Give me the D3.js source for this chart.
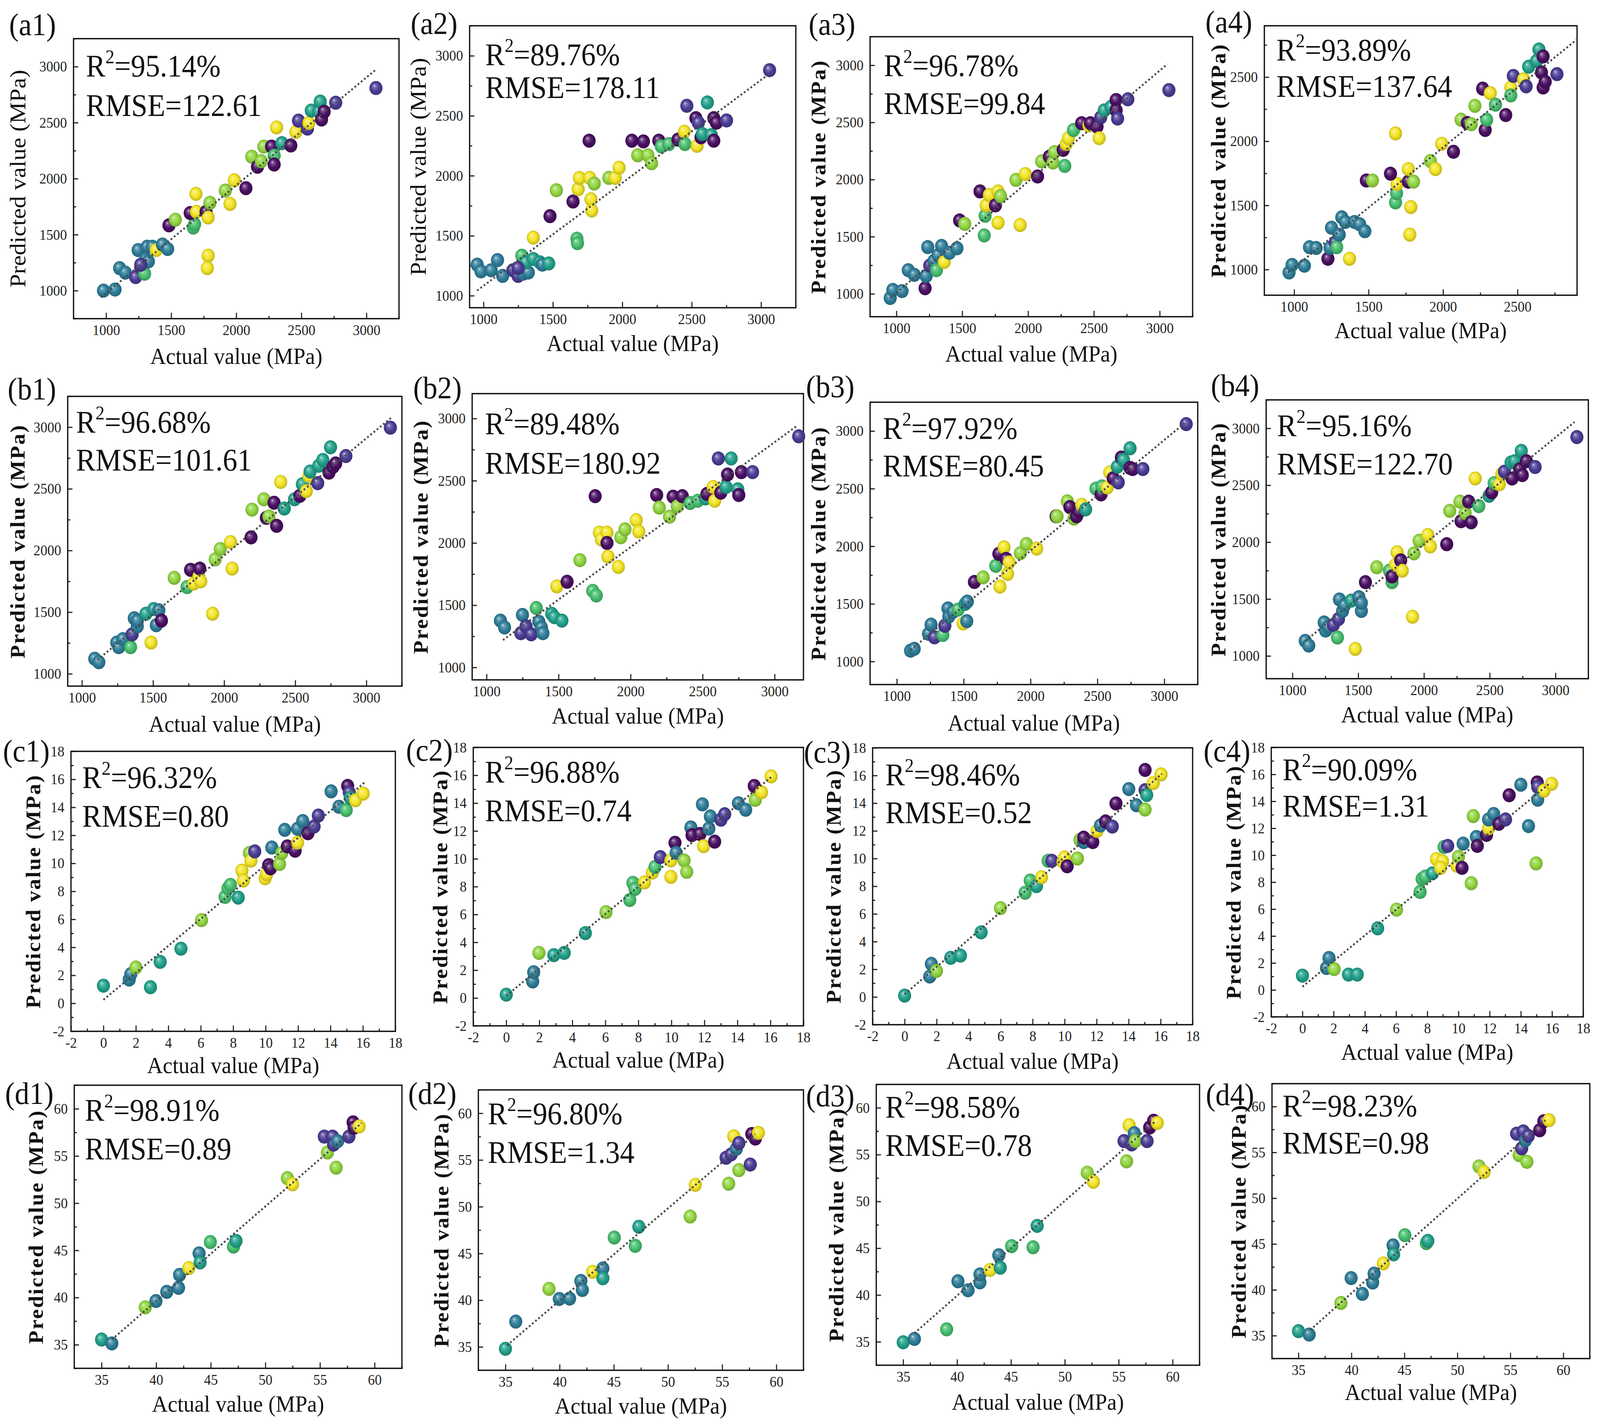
<!DOCTYPE html>
<html>
<head>
<meta charset="utf-8">
<script src="https://cdn.jsdelivr.net/npm/d3@7"></script>
<style>
  html, body { margin: 0; padding: 0; background: #fff; overflow: hidden; }
  svg { display: block; width: 100vw; height: 100vh; font-family: "Liberation Serif", "Times New Roman", serif; }
</style>
</head>
<body>
<svg id="chart" viewBox="0 0 4395 3644" preserveAspectRatio="none"></svg>
<script>
// ---- data: actual / predicted / colour group per panel ----
const a1Actual = [980,1069,1104,1148,1227,1266,1296,1246,1315,1355,1384,1433,1473,1305,1325,1266,1483,1532,1670,1680,1646,1694,1690,1768,1784,1798,1784,1778,1916,1952,1985,2074,2119,2163,2192,2212,2271,2291,2291,2350,2419,2310,2458,2478,2547,2557,2576,2635,2645,2655,2675,2764,3073];
const a1Pred   = [1000,1010,1201,1161,1121,1211,1151,1362,1392,1392,1362,1412,1372,1281,1261,1231,1583,1633,1563,1593,1693,1704,1864,1704,1653,1784,1312,1201,1894,1774,1985,1915,2196,2106,2156,2286,2286,2206,2126,2317,2296,2457,2417,2518,2447,2497,2608,2598,2688,2528,2598,2678,2809];
const a1Grp    = [2,2,2,2,1,1,4,2,2,2,6,2,2,2,2,1,0,5,4,4,0,6,6,0,6,5,6,6,5,6,6,0,5,0,5,5,0,4,0,3,0,6,6,1,1,6,3,3,3,0,0,1,1];

const a2Actual = [954,982,1055,1101,1138,1212,1249,1286,1323,1276,1304,1359,1406,1424,1470,1249,1359,1479,1525,1645,1673,1677,1682,1691,1761,1765,1774,1780,1798,1903,1949,1977,2069,2111,2152,2185,2211,2263,2281,2336,2401,2447,2451,2465,2530,2548,2539,2567,2576,2613,2641,2659,2678,2659,2751,3061];
const a2Pred   = [1259,1203,1212,1297,1165,1212,1165,1184,1193,1334,1278,1306,1278,1259,1269,1231,1484,1663,1879,1785,1475,1438,1888,1982,2292,1982,1804,1710,1935,1982,1982,2067,2292,2170,2286,2170,2104,2292,2245,2264,2301,2367,2264,2583,2480,2442,2249,2320,2348,2611,2339,2480,2442,2292,2461,2880];
const a2Grp    = [2,2,2,2,2,1,1,2,2,4,3,3,3,2,3,1,6,0,5,0,4,4,6,6,0,6,6,6,5,5,6,6,0,5,0,5,5,0,4,4,0,6,4,1,0,1,6,0,3,3,3,0,0,0,1,1];

const a3Actual = [953,973,1043,1090,1136,1218,1226,1238,1253,1285,1304,1316,1343,1363,1402,1460,1480,1519,1667,1674,1635,1682,1706,1752,1772,1791,1772,1940,1908,1979,2072,2103,2162,2189,2201,2279,2267,2290,2306,2345,2407,2462,2474,2524,2540,2552,2579,2630,2669,2669,2680,2758,3070];
const a3Pred   = [964,1034,1024,1207,1166,1049,1156,1409,1247,1288,1207,1338,1419,1278,1359,1399,1642,1612,1511,1683,1896,1774,1865,1774,1896,1855,1622,1602,1997,2048,2027,2159,2200,2149,2240,2119,2260,2311,2362,2433,2493,2473,2493,2463,2362,2544,2605,2635,2696,2605,2534,2702,2783];
const a3Grp    = [2,2,2,2,2,0,2,2,1,2,4,2,2,6,2,2,0,5,4,4,0,6,6,0,6,5,6,6,5,6,0,5,0,5,5,4,0,6,6,4,0,6,0,0,6,1,3,3,0,0,1,1,1];

const a4Actual = [966,986,1069,1103,1148,1227,1241,1251,1275,1286,1303,1320,1344,1372,1406,1440,1475,1485,1526,1681,1688,1681,1691,1647,1767,1767,1802,1784,1777,1915,1949,1991,2070,2121,2163,2190,2214,2266,2283,2293,2317,2352,2421,2455,2455,2472,2541,2558,2575,2627,2644,2661,2672,2672,2686,2765];
const a4Pred   = [977,1036,1030,1174,1168,1084,1168,1326,1210,1174,1272,1407,1371,1084,1371,1353,1299,1694,1694,1523,1595,2061,1667,1747,1685,1783,1685,1487,1272,1846,1783,1980,1918,2168,2142,2133,2276,2410,2088,2168,2375,2285,2204,2419,2357,2509,2482,2428,2581,2625,2715,2536,2661,2419,2464,2523];
const a4Grp    = [2,2,2,2,2,0,2,2,1,4,2,2,2,6,2,2,2,0,5,4,4,6,6,0,0,6,5,6,6,5,6,6,0,5,0,5,5,0,0,4,6,4,0,6,4,1,6,1,3,3,3,0,0,0,0,1];

const b1Actual = [1090,1119,1245,1259,1288,1342,1353,1368,1389,1389,1450,1486,1505,1523,1541,1559,1649,1739,1764,1786,1822,1829,1836,1919,1937,1973,2045,2056,2189,2196,2279,2297,2315,2351,2369,2398,2423,2495,2532,2550,2578,2596,2604,2658,2665,2694,2737,2766,2784,2748,2856,3169];
const b1Pred   = [1122,1094,1253,1216,1281,1216,1319,1450,1384,1431,1487,1253,1525,1394,1515,1431,1778,1703,1843,1731,1787,1853,1750,1487,1928,2012,2068,1853,2106,2331,2415,2265,2275,2387,2200,2556,2340,2415,2443,2537,2481,2603,2640,2546,2687,2734,2631,2678,2706,2837,2766,2996];
const b1Grp    = [2,2,2,2,2,4,1,2,2,2,3,6,3,2,2,0,5,4,0,6,6,0,6,6,5,5,6,6,0,5,5,0,5,0,0,6,3,3,0,3,6,6,3,1,3,3,0,0,0,3,1,1];

const b2Actual = [1096,1125,1238,1249,1274,1310,1345,1363,1381,1391,1452,1470,1523,1488,1559,1648,1737,1762,1754,1783,1797,1836,1836,1843,1915,1932,1961,2039,2057,2181,2199,2270,2295,2324,2359,2413,2466,2520,2530,2573,2584,2609,2626,2662,2673,2698,2744,2751,2769,2847,3167];
const b2Pred   = [1376,1321,1275,1422,1330,1266,1477,1367,1321,1275,1431,1404,1376,1651,1688,1862,1615,1578,2376,2083,2028,2083,2000,1890,1807,2046,2110,2183,2092,2385,2284,2211,2372,2294,2376,2321,2339,2358,2394,2450,2339,2679,2404,2450,2550,2679,2431,2385,2569,2569,2857];
const b2Grp    = [2,2,1,2,1,1,4,2,2,2,3,3,3,6,0,5,4,4,0,6,6,6,0,6,6,5,5,6,6,0,5,5,0,5,0,4,4,3,0,6,6,1,0,3,0,3,3,0,0,1,1];

const b3Actual = [1103,1130,1237,1256,1282,1344,1359,1382,1389,1420,1458,1496,1511,1523,1527,1580,1645,1740,1763,1771,1802,1817,1828,1840,1924,1969,2046,2191,2198,2275,2294,2324,2344,2363,2382,2412,2489,2527,2534,2573,2592,2618,2656,2649,2679,2695,2744,2763,2744,2840,3164];
const b3Pred   = [1094,1110,1240,1320,1210,1230,1310,1460,1390,1430,1450,1330,1500,1350,1520,1690,1730,1830,1934,1650,1990,1890,1760,1860,1940,2020,1980,2260,2260,2390,2340,2240,2260,2300,2360,2320,2500,2450,2520,2510,2640,2590,2554,2690,2770,2750,2680,2670,2850,2670,3060];
const b3Grp    = [2,2,2,2,1,4,1,2,2,2,4,6,3,2,2,0,5,4,0,6,6,0,6,6,5,5,6,0,5,5,0,5,0,0,6,3,4,0,4,6,6,0,1,3,0,3,0,0,3,1,1];

const b4Actual = [1097,1124,1241,1252,1272,1311,1342,1350,1357,1381,1396,1447,1478,1505,1524,1524,1555,1641,1738,1757,1757,1784,1796,1823,1835,1913,1924,1963,2029,2049,2173,2196,2282,2274,2313,2340,2359,2390,2417,2495,2515,2534,2573,2592,2612,2670,2662,2689,2728,2748,2740,2779,2845,3163];
const b4Pred   = [1132,1091,1294,1223,1253,1273,1162,1324,1496,1395,1445,1486,1061,1516,1395,1466,1648,1779,1749,1648,1698,1800,1911,1840,1749,1344,1901,2012,2063,1962,1982,2275,2184,2356,2255,2356,2174,2559,2316,2407,2437,2518,2508,2599,2619,2559,2700,2711,2640,2589,2802,2711,2660,2923];
const b4Grp    = [2,2,2,2,2,1,4,1,2,2,2,3,6,2,2,2,0,5,4,4,0,6,6,0,6,6,5,5,6,6,0,5,0,5,5,0,0,6,4,3,0,4,6,6,1,0,3,3,0,0,3,0,1,1];

const c1Actual = [0,1.59,1.69,2.0,2.9,3.5,4.78,6.05,7.5,7.68,7.83,8.31,8.54,8.63,9.0,9.1,9.33,9.97,10.06,10.19,10.3,10.38,10.86,11.0,11.18,11.34,11.82,11.97,11.97,12.29,12.61,12.99,13.25,14.04,14.52,14.97,15.06,15.16,15.22,15.54,16.02];
const c1Pred   = [1.26,1.70,2.09,2.56,1.15,2.96,3.9,5.94,7.6,8.22,8.46,7.55,9.48,8.77,10.74,10.19,10.85,8.93,9.21,9.87,9.64,11.13,9.95,10.74,12.39,11.21,10.9,11.48,12.47,13.02,12.15,12.63,13.41,15.14,14.04,13.8,15.53,15.06,14.67,14.5,14.98];
const c1Grp    = [3,2,2,5,3,3,3,5,4,4,4,3,6,6,5,6,1,6,6,0,0,2,5,5,2,0,0,6,2,2,0,1,1,2,2,4,0,1,3,6,6];

const c2Actual = [0,1.6,1.66,1.98,2.88,3.51,4.79,6.04,7.48,7.67,7.8,8.37,8.85,9.01,9.33,9.97,9.97,10.22,10.29,10.77,10.93,11.18,11.25,11.73,11.95,11.88,12.27,12.36,12.62,13.0,13.23,14.06,14.5,15.02,15.08,15.46,16.04];
const c2Pred   = [0.24,1.19,1.85,3.24,3.08,3.24,4.66,6.17,7.04,8.27,7.83,8.3,9.01,9.41,10.12,9.88,8.7,11.15,10.43,9.88,9.06,12.25,11.7,11.78,10.91,13.91,12.17,13.04,11.23,12.81,13.2,13.99,13.52,15.23,14.23,14.78,15.92];
const c2Grp    = [3,2,2,5,3,3,3,5,4,4,4,6,6,4,1,6,6,0,2,5,5,2,0,0,6,2,2,2,0,1,1,2,2,0,5,6,6];

const c3Actual = [0,1.57,1.67,1.99,2.88,3.49,4.78,5.99,7.53,7.85,8.24,8.56,8.97,9.2,9.9,10.0,10.16,10.8,10.96,11.19,11.19,11.76,12.02,12.24,12.56,12.98,13.21,14.01,14.49,15.03,15.03,15.13,15.03,15.54,16.03];
const c3Pred   = [0.1,1.48,2.39,1.88,2.83,2.99,4.67,6.42,7.53,8.41,8.01,8.65,9.84,9.84,9.76,10.08,9.44,10.0,11.35,11.19,11.51,11.19,11.99,12.39,12.68,12.31,13.98,15.02,13.85,16.4,14.94,14.59,13.54,15.45,16.08];
const c3Grp    = [3,2,2,5,3,3,3,5,4,4,3,6,4,1,6,6,0,5,5,2,0,0,6,2,0,1,0,2,2,0,1,3,5,6,6];

const c4Actual = [0,1.54,1.7,2.03,2.95,3.51,4.82,6.03,7.54,7.67,7.87,8.33,8.59,8.98,8.85,9.08,9.31,9.9,10.0,10.23,10.3,10.82,10.95,11.15,11.21,11.8,11.93,11.93,12.26,12.59,13.02,13.25,14.0,14.49,14.98,15.05,15.08,15.08,15.48,15.97];
const c4Pred   = [1.06,1.63,2.37,1.55,1.14,1.14,4.57,5.96,7.27,8.24,8.41,8.65,9.71,9.55,9.06,10.61,10.69,9.22,9.88,9.06,10.86,7.92,12.9,11.35,10.69,11.51,12.0,12.65,13.06,12.33,12.65,14.45,15.23,12.16,9.39,15.4,15.07,14.12,14.78,15.3];
const c4Grp    = [3,2,2,5,3,3,3,5,4,4,4,3,6,6,6,4,1,6,5,0,2,5,5,2,0,0,6,2,2,0,1,0,2,2,5,0,1,2,6,6];

const d1Actual = [35.0,35.94,39.0,39.98,40.97,42.05,42.14,42.99,43.93,44.02,44.96,47.08,47.31,52.01,52.48,55.39,55.68,56.15,56.24,56.48,56.62,57.65,58.03,58.12,58.59];
const d1Pred   = [35.55,35.14,38.96,39.63,40.6,41.03,42.4,43.12,44.68,43.72,45.88,45.4,46.0,52.65,52.0,57.05,55.37,57.05,56.21,53.76,56.57,57.05,58.56,58.0,58.13];
const d1Grp    = [3,2,5,2,2,2,2,6,2,3,4,4,3,5,6,1,5,1,1,5,2,1,0,0,6];

const d2Actual = [35.0,35.95,39.02,39.97,40.92,41.96,42.1,43.05,43.99,43.99,45.04,46.98,47.31,52.05,52.52,55.36,55.6,55.83,56.07,56.31,56.54,56.54,57.59,57.73,58.06,58.34];
const d2Pred   = [34.8,37.71,41.21,40.13,40.17,42.06,41.09,43.03,43.39,42.35,46.7,45.81,47.86,48.95,52.34,55.24,52.46,55.6,57.53,56.2,56.81,53.91,54.51,57.78,57.29,57.9];
const d2Grp    = [3,2,5,2,2,2,2,6,2,3,4,4,3,5,6,1,5,1,6,2,1,5,1,0,0,6];

const d3Actual = [35.0,36.04,39.03,40.08,41.02,42.12,42.12,43.06,43.87,44.01,45.06,47.05,47.43,52.08,52.65,55.49,55.73,55.97,56.2,56.44,56.54,57.63,57.87,58.24,58.58];
const d3Pred   = [34.95,35.31,36.33,41.47,40.51,41.35,42.2,42.68,44.25,42.92,45.22,45.1,47.39,53.07,52.1,56.45,54.28,58.14,56.09,57.29,56.45,56.45,57.9,58.62,58.38];
const d3Grp    = [3,2,4,2,2,2,2,6,2,3,4,4,3,5,6,1,5,6,1,2,5,1,0,0,6];

const d4Actual = [35.0,36.01,39.01,39.97,41.03,42.0,42.14,43.01,43.93,43.98,45.04,47.07,47.21,52.04,52.52,55.59,55.83,56.07,56.22,56.41,56.56,56.7,57.77,58.16,58.65];
const d4Pred   = [35.49,35.12,38.57,41.28,39.56,40.79,41.77,42.88,44.85,43.87,45.96,45.1,45.34,53.47,52.86,57.04,54.7,55.44,57.29,56.3,53.97,56.8,57.41,58.4,58.52];
const d4Grp    = [3,2,5,2,2,2,2,6,2,3,4,4,3,5,6,1,5,1,1,2,5,1,0,0,6];

// fitted line ends [x0, y0, x1, y1]
const a1Fit = [961,940,3079,2980],   a2Fit = [954,1043,3055,2846];
const a3Fit = [953,964,3058,3010],   a4Fit = [959,977,2902,2796];
const b1Fit = [1108,1112,3180,3081], b2Fit = [1114,1220,3160,2945];
const b3Fit = [1103,1100,3164,3080], b4Fit = [1097,1132,3144,3055];
const c1Fit = [0,0.25,16.18,15.85],  c2Fit = [0,0.16,16.04,15.86];
const c3Fit = [0,0.2,16.09,16.13],   c4Fit = [0,0.24,15.87,15.35];
const d1Fit = [35.94,35.55,58.8,58.49], d2Fit = [35.14,35.17,58.06,57.78];
const d3Fit = [36.04,35.92,58.34,58.5], d4Fit = [36.11,35.62,58.31,58.52];

// metrics text
const r2List   = ["95.14%","89.76%","96.78%","93.89%","96.68%","89.48%","97.92%","95.16%","96.32%","96.88%","98.46%","90.09%","98.91%","96.80%","98.58%","98.23%"];
const rmseList = ["122.61","178.11","99.84","137.64","101.61","180.92","80.45","122.70","0.80","0.74","0.52","1.31","0.89","1.34","0.78","0.98"];

// tick labels
const ticksMPa  = [1000,1500,2000,2500,3000];
const ticksA4   = [1000,1500,2000,2500];
const ticksC    = [-2,0,2,4,6,8,10,12,14,16,18];
const ticksD    = [35,40,45,50,55,60];

// viridis-like colour per group
const GROUP_COLORS = ["#4a0f63","#4b3d96","#2f7e9a","#22a28b","#46c06e","#93d741","#f4e525"];

// ---- panel definitions ----
const panels = [
  { id:"a1", x:a1Actual, y:a1Pred, g:a1Grp, fit:a1Fit, dom:[750,3250], ticks:ticksMPa, minor:250 },
  { id:"a2", x:a2Actual, y:a2Pred, g:a2Grp, fit:a2Fit, dom:[900,3250], ticks:ticksMPa, minor:250 },
  { id:"a3", x:a3Actual, y:a3Pred, g:a3Grp, fit:a3Fit, dom:[800,3250], ticks:ticksMPa, minor:250 },
  { id:"a4", x:a4Actual, y:a4Pred, g:a4Grp, fit:a4Fit, dom:[800,2900], ticks:ticksA4,  minor:250 },
  { id:"b1", x:b1Actual, y:b1Pred, g:b1Grp, fit:b1Fit, dom:[900,3250], ticks:ticksMPa, minor:250 },
  { id:"b2", x:b2Actual, y:b2Pred, g:b2Grp, fit:b2Fit, dom:[900,3200], ticks:ticksMPa, minor:250 },
  { id:"b3", x:b3Actual, y:b3Pred, g:b3Grp, fit:b3Fit, dom:[800,3250], ticks:ticksMPa, minor:250 },
  { id:"b4", x:b4Actual, y:b4Pred, g:b4Grp, fit:b4Fit, dom:[800,3250], ticks:ticksMPa, minor:250 },
  { id:"c1", x:c1Actual, y:c1Pred, g:c1Grp, fit:c1Fit, dom:[-2,18], ticks:ticksC, minor:1 },
  { id:"c2", x:c2Actual, y:c2Pred, g:c2Grp, fit:c2Fit, dom:[-2,18], ticks:ticksC, minor:1 },
  { id:"c3", x:c3Actual, y:c3Pred, g:c3Grp, fit:c3Fit, dom:[-2,18], ticks:ticksC, minor:1 },
  { id:"c4", x:c4Actual, y:c4Pred, g:c4Grp, fit:c4Fit, dom:[-2,18], ticks:ticksC, minor:1 },
  { id:"d1", x:d1Actual, y:d1Pred, g:d1Grp, fit:d1Fit, dom:[32.5,62.5], ticks:ticksD, minor:2.5 },
  { id:"d2", x:d2Actual, y:d2Pred, g:d2Grp, fit:d2Fit, dom:[32.5,62.5], ticks:ticksD, minor:2.5 },
  { id:"d3", x:d3Actual, y:d3Pred, g:d3Grp, fit:d3Fit, dom:[32.5,62.5], ticks:ticksD, minor:2.5 },
  { id:"d4", x:d4Actual, y:d4Pred, g:d4Grp, fit:d4Fit, dom:[32.5,62.5], ticks:ticksD, minor:2.5 }
];

// ---- layout (pixels): frame, label, titles, metric text ----
// [L, R, T, B, labelX, labelY, yTitleX, xTitleY, textX, r2Y, rmseY]
const layout = [
  [202,1096,99,816,    25,90,   49,912,   236,196,297],
  [1290,2186,66,788,   1128,87, 1149,879, 1333,167,251],
  [2390,3276,94,811,   2221,89, 2249,906, 2428,195,292],
  [3473,4332,66,756,   3311,83, 3347,846, 3506,155,248],
  [186,1104,1015,1757, 21,1023, 49,1854,  209,1108,1205],
  [1297,2207,1008,1741,1135,1020,1156,1833,1332,1112,1213],
  [2390,3290,1030,1753,2214,1017,2249,1851,2425,1124,1220],
  [3478,4363,1024,1738,3326,1014,3347,1830,3508,1117,1215],
  [195,1086,1924,2641, 8,1950,  92,2728,  226,2018,2117],
  [1300,2207,1914,2627,1115,1948,1210,2714,1332,2004,2103],
  [2397,3276,1915,2624,2208,1953,2291,2717,2432,2011,2108],
  [3492,4349,1914,2604,3306,1950,3389,2694,3523,1998,2091],
  [204,1104,2779,3504, 14,2827, 99,3595,  233,2870,2969],
  [1314,2207,2791,3509,1121,2827,1213,3600,1340,2879,2978],
  [2407,3295,2777,3496,2214,2833,2298,3590,2432,2862,2960],
  [3494,4367,2775,3479,3312,2830,3403,3565,3523,2859,2954]
];

const svg = d3.select("#chart");
svg.append("rect").attr("width", 4395).attr("height", 3644).attr("fill", "#fff");

// gradien bola 3D
const defs = svg.append("defs");
GROUP_COLORS.forEach((c, i) => {
  const base = d3.color(c);
  const grad = defs.append("radialGradient")
    .attr("id", "ball" + i)
    .attr("cx", "50%").attr("cy", "50%").attr("r", "55%")
    .attr("fx", "36%").attr("fy", "32%");
  grad.append("stop").attr("offset", "0%").attr("stop-color", d3.interpolateRgb(c, "#fff")(0.8));
  grad.append("stop").attr("offset", "18%").attr("stop-color", d3.interpolateRgb(c, "#fff")(0.3));
  grad.append("stop").attr("offset", "55%").attr("stop-color", base.formatHex());
  grad.append("stop").attr("offset", "100%").attr("stop-color", base.darker(0.8).formatHex());
});

const fmt = d => String(d);

panels.forEach((p, i) => {
  const [L, R, T, B, labX, labY, ytX, xtY, txX, r2Y, rmseY] = layout[i];
  const g = svg.append("g");

  const x = d3.scaleLinear().domain(p.dom).range([L, R]);
  const y = d3.scaleLinear().domain(p.dom).range([B, T]);

  const minorTicks = d3.range(Math.ceil(p.dom[0] / p.minor) * p.minor, p.dom[1] + 1e-9, p.minor)
    .filter(v => !p.ticks.some(t => Math.abs(t - v) < 1e-9));

  // sumbu x (tick ke dalam)
  g.append("g").attr("transform", `translate(0,${B})`)
    .call(d3.axisBottom(x).tickValues(p.ticks).tickSizeInner(-15).tickSizeOuter(0).tickPadding(15).tickFormat(fmt));
  g.append("g").attr("transform", `translate(0,${B})`)
    .call(d3.axisBottom(x).tickValues(minorTicks).tickSizeInner(-7).tickSizeOuter(0).tickFormat(""));

  // sumbu y (tick ke dalam)
  g.append("g").attr("transform", `translate(${L},0)`)
    .call(d3.axisLeft(y).tickValues(p.ticks).tickSizeInner(-13).tickSizeOuter(0).tickPadding(18).tickFormat(fmt));
  g.append("g").attr("transform", `translate(${L},0)`)
    .call(d3.axisLeft(y).tickValues(minorTicks).tickSizeInner(-7).tickSizeOuter(0).tickFormat(""));

  g.selectAll(".domain").remove();
  g.selectAll(".tick line").attr("stroke", "#222").attr("stroke-width", 3);
  g.selectAll(".tick text")
    .attr("font-size", 38)
    .attr("font-family", "'Liberation Serif', serif")
    .attr("fill", "#222");

  // bingkai
  g.append("rect")
    .attr("x", L).attr("y", T)
    .attr("width", R - L).attr("height", B - T)
    .attr("fill", "none").attr("stroke", "#111").attr("stroke-width", 3.5);

  // titik
  const pts = p.x.map((v, k) => ({ a: v, b: p.y[k], c: p.g[k] }));
  g.selectAll("circle.pt")
    .data(pts)
    .enter()
    .append("circle")
    .attr("class", "pt")
    .attr("cx", d => x(d.a))
    .attr("cy", d => y(d.b))
    .attr("r", 18)
    .attr("fill", d => `url(#ball${d.c})`);

  // garis fit (titik-titik)
  g.append("line")
    .attr("x1", x(p.fit[0])).attr("y1", y(p.fit[1]))
    .attr("x2", x(p.fit[2])).attr("y2", y(p.fit[3]))
    .attr("stroke", "#4a4a4a")
    .attr("stroke-width", 5)
    .attr("stroke-dasharray", "5,6");

  // label panel
  g.append("text")
    .attr("x", labX).attr("y", labY)
    .attr("font-size", 80)
    .attr("fill", "#111")
    .text(`(${p.id})`);

  // judul sumbu
  g.append("text")
    .attr("x", (L + R) / 2).attr("y", xtY)
    .attr("text-anchor", "middle")
    .attr("dominant-baseline", "central")
    .attr("font-size", 60)
    .attr("fill", "#111")
    .text("Actual value (MPa)");

  const bold = i >= 2;
  g.append("text")
    .attr("transform", `translate(${ytX},${(T + B) / 2}) rotate(-90)`)
    .attr("text-anchor", "middle")
    .attr("dominant-baseline", "central")
    .attr("font-size", bold ? 56 : 62)
    .attr("font-weight", bold ? "bold" : "normal")
    .attr("letter-spacing", bold ? 3 : 0)
    .attr("fill", "#111")
    .text("Predicted value (MPa)");

  // R2 dan RMSE
  const t1 = g.append("text")
    .attr("x", txX).attr("y", r2Y)
    .attr("font-size", 80)
    .attr("fill", "#111");
  t1.append("tspan").text("R");
  t1.append("tspan").attr("font-size", 50).attr("dy", -34).text("2");
  t1.append("tspan").attr("dy", 34).text("=" + r2List[i]);

  g.append("text")
    .attr("x", txX).attr("y", rmseY)
    .attr("font-size", 80)
    .attr("fill", "#111")
    .text("RMSE=" + rmseList[i]);
});
</script>
</body>
</html>
